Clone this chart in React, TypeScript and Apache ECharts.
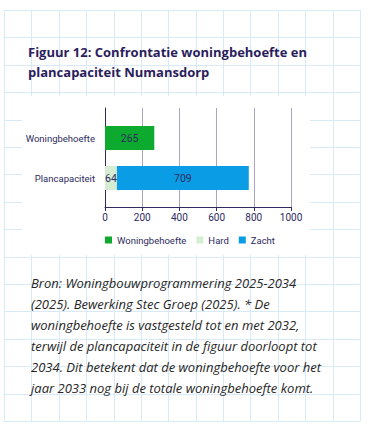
import React, { useEffect, useRef } from 'react';
import * as echarts from 'echarts';

const categories = ['Woningbehoefte', 'Plancapaciteit'];
const woningbehoefteValues: (number | string)[] = [265, '-'];
const hardValues: (number | string)[] = ['-', 64];
const zachtValues: (number | string)[] = ['-', 709];
const legendNames = ['Woningbehoefte', 'Hard', 'Zacht'];
const xMin = 0;
const xMax = 1000;
const xInterval = 200;

const titleText = 'Figuur 12: Confrontatie woningbehoefte en\nplancapaciteit Numansdorp';
const captionLines = [
  'Bron: Woningbouwprogrammering 2025-2034',
  '(2025). Bewerking Stec Groep (2025). * De',
  'woningbehoefte is vastgesteld tot en met 2032,',
  'terwijl de plancapaciteit in de figuur doorloopt tot',
  '2034. Dit betekent dat de woningbehoefte voor het',
  'jaar 2033 nog bij de totale woningbehoefte komt.',
];

const FONT = 'Open Sans';
const SMALL_FONT = 'Roboto';
const NAVY = '#2e2a5e';
const GRID_BLUE = '#d8eaf6';

export default function App() {
  const ref = useRef<HTMLDivElement>(null);
  useEffect(() => {
    if (!ref.current) return;
    const chart = echarts.init(ref.current, null, { renderer: 'svg' });

    const bg: any[] = [];
    const x0 = 4, y0 = 10, x1 = 360, y1 = 421;
    const nx = 13, ny = 15;
    const cw = (x1 - x0) / nx;
    const ch = (y1 - y0) / ny;
    for (let i = 0; i <= nx; i++) {
      const x = Math.round(x0 + i * cw) + 0.5;
      bg.push({ type: 'line', z: -10, silent: true, shape: { x1: x, y1: y0, x2: x, y2: y1 }, style: { stroke: GRID_BLUE, lineWidth: 1 } });
    }
    for (let j = 0; j <= ny; j++) {
      const y = Math.round(y0 + j * ch) + 0.5;
      bg.push({ type: 'line', z: -10, silent: true, shape: { x1: x0, y1: y, x2: x1, y2: y }, style: { stroke: GRID_BLUE, lineWidth: 1 } });
    }
    bg.push({ type: 'rect', z: -5, silent: true, shape: { x: 22, y: 96, width: 288, height: 159 }, style: { fill: '#ffffff' } });
    bg.push({
      type: 'text', z: 10, x: 28, y: 41.5,
      style: { text: titleText, font: `bold 13px "${FONT}"`, fill: '#2b1d5c', lineHeight: 20, verticalAlign: 'top' },
    });
    bg.push({
      type: 'text', z: 10, x: 31, y: 273,
      style: { text: captionLines.join('\n'), font: `italic 13px "${FONT}"`, fill: '#262626', lineHeight: 20.9, verticalAlign: 'top' },
    });

    const labelStyle = { show: true, position: 'inside', color: NAVY, fontSize: 10.5, fontFamily: SMALL_FONT };

    chart.setOption({
      animation: false,
      backgroundColor: '#ffffff',
      textStyle: { fontFamily: SMALL_FONT },
      graphic: bg,
      grid: [
        { left: 105, top: 118, width: 186, height: 80, containLabel: false },
        { left: 105, top: 108, width: 186, height: 99, containLabel: false },
      ],
      legend: {
        data: legendNames,
        left: 105,
        top: 235,
        padding: 0,
        icon: 'rect',
        itemWidth: 7,
        itemHeight: 7,
        itemGap: 10,
        textStyle: { color: NAVY, fontSize: 9.5, fontFamily: SMALL_FONT },
      },
      xAxis: [
        { gridIndex: 0, type: 'value', min: xMin, max: xMax, show: false },
        {
          gridIndex: 1, type: 'value', min: xMin, max: xMax, interval: xInterval,
          axisLine: { show: true, lineStyle: { color: NAVY, width: 1 } },
          axisTick: { show: true, length: 4, lineStyle: { color: NAVY } },
          axisLabel: { color: NAVY, fontSize: 10, fontFamily: SMALL_FONT, margin: 5, formatter: (v: number) => String(v) },
          splitLine: { show: true, lineStyle: { color: '#aaa6c2', width: 1 } },
        },
      ],
      yAxis: [
        {
          gridIndex: 0, type: 'category', data: categories, inverse: true,
          axisLine: { show: false }, axisTick: { show: false },
          axisLabel: { color: NAVY, fontSize: 9.5, fontFamily: SMALL_FONT, margin: 10 },
        },
        {
          gridIndex: 1, type: 'value', min: 0, max: 1,
          axisLine: { show: true, lineStyle: { color: NAVY, width: 1 } },
          axisTick: { show: false }, axisLabel: { show: false }, splitLine: { show: false },
        },
      ],
      series: [
        { name: 'Woningbehoefte', type: 'bar', stack: 'a', xAxisIndex: 0, yAxisIndex: 0, barWidth: 24, data: woningbehoefteValues, itemStyle: { color: '#0cab2f' }, label: labelStyle },
        { name: 'Hard', type: 'bar', stack: 'a', xAxisIndex: 0, yAxisIndex: 0, barWidth: 24, data: hardValues, itemStyle: { color: '#d6ecd3' }, label: labelStyle },
        { name: 'Zacht', type: 'bar', stack: 'a', xAxisIndex: 0, yAxisIndex: 0, barWidth: 24, data: zachtValues, itemStyle: { color: '#0a9de6' }, label: labelStyle },
      ],
    });
    return () => chart.dispose();
  }, []);
  return <div ref={ref} style={{ position: 'fixed', left: 0, top: 0, width: 372, height: 435 }} />;
}
